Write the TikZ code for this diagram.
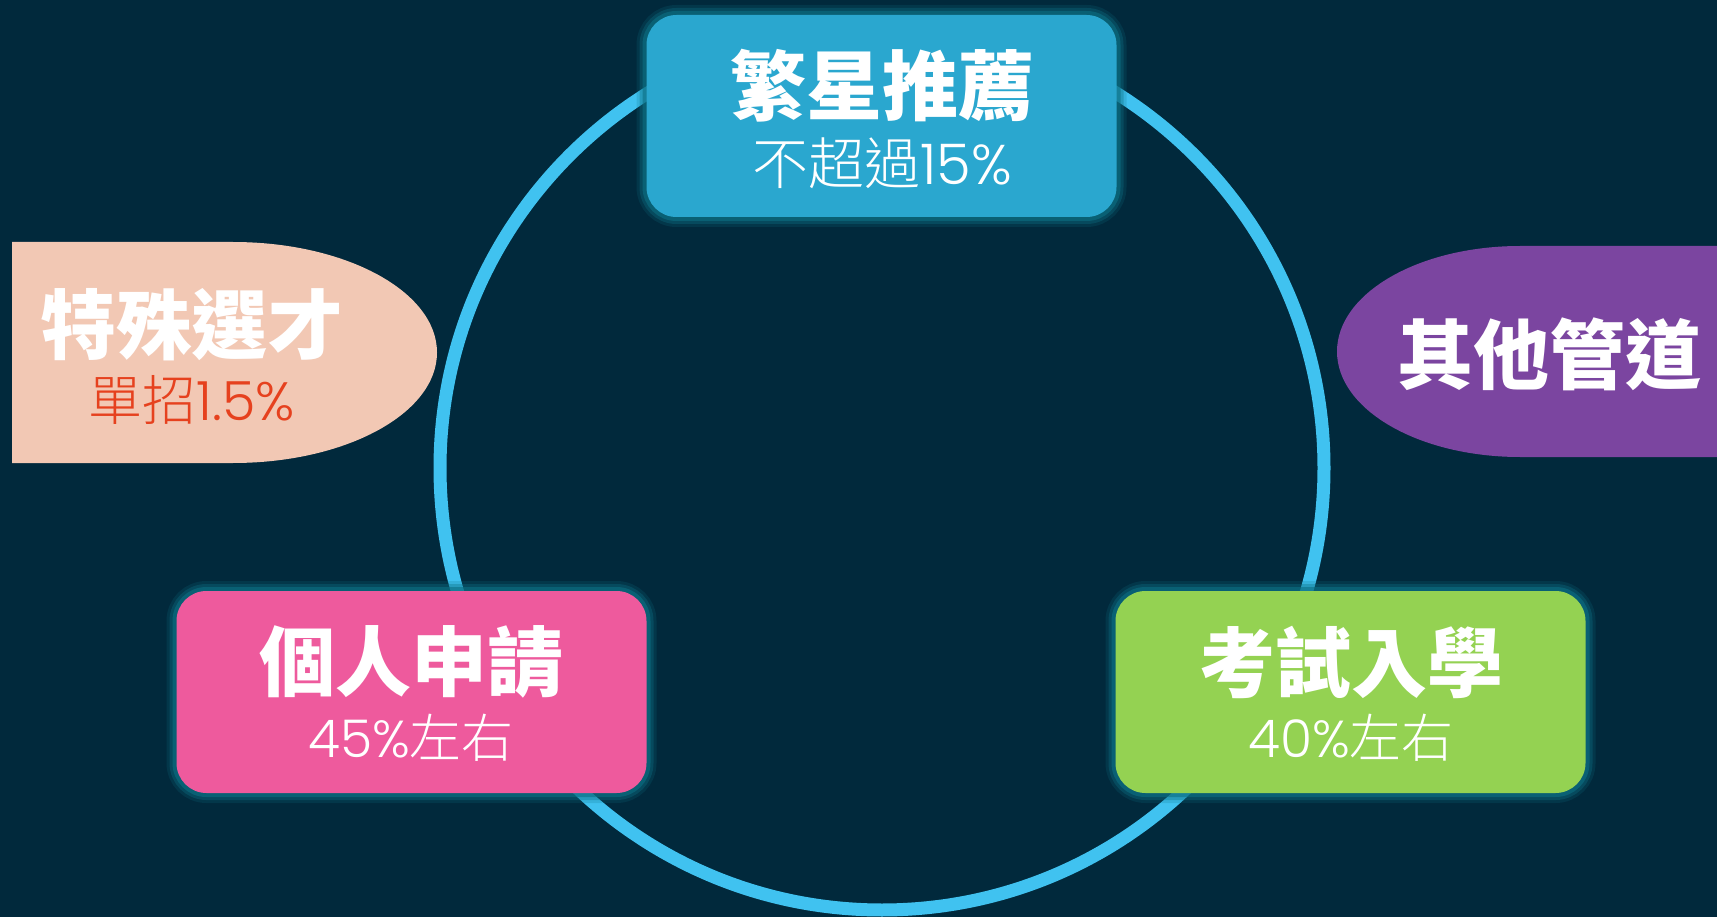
\documentclass[tikz,border=0pt]{standalone}
\usepackage{fontspec}
\newfontfamily\cjk{Noto Sans CJK TC}
\IfFontExistsTF{Noto Sans CJK TC Light}
  {\newfontfamily\cjkl{Noto Sans CJK TC Light}}
  {\newfontfamily\cjkl{Noto Sans CJK TC}}
\IfFontExistsTF{Poppins Light}
  {\newfontfamily\popl{Poppins Light}}
  {\newfontfamily\popl{Poppins}}
\definecolor{bgc}{RGB}{1,41,60}
\definecolor{ringc}{RGB}{64,194,240}
\definecolor{glowc}{RGB}{12,112,132}
\definecolor{bluebox}{RGB}{42,167,207}
\definecolor{pinkbox}{RGB}{238,90,157}
\definecolor{greenbox}{RGB}{148,210,82}
\definecolor{peachc}{RGB}{242,200,180}
\definecolor{purplec}{RGB}{123,69,160}
\definecolor{redtxt}{RGB}{230,65,30}
\tikzset{
  panel/.style={rounded corners=30pt, minimum width=470pt, minimum height=202pt, inner sep=0pt,
    preaction={draw=glowc, line width=20pt, draw opacity=0.2},
    preaction={draw=glowc, line width=14pt, draw opacity=0.35},
    preaction={draw=glowc, line width=8pt, draw opacity=0.6}},
  title/.style={text=white, inner sep=0pt, font=\cjk\bfseries\fontsize{76}{80}\selectfont},
  subtitle/.style={text=white, inner sep=0pt, font=\fontsize{52}{56}\selectfont}
}
\begin{document}
\begin{tikzpicture}[x=1pt,y=-1pt]
\fill[bgc] (0,0) rectangle (1717,917);
\useasboundingbox (0,0) rectangle (1717,917);
% ring
\draw[ringc, line width=13pt] (882,468) circle[radius=442];
% side shapes
\fill[peachc] (12,242) -- (233,242) arc[start angle=-90, end angle=90, x radius=204, y radius=110.5] -- (12,463) -- cycle;
\fill[purplec] (1717,246) -- (1520,246) arc[start angle=-90, end angle=-270, x radius=183, y radius=105.5] -- (1717,457) -- cycle;
% panels
\node[panel, fill=bluebox] (top) at (881.5,116) {};
\node[panel, fill=pinkbox] (left) at (411.5,692) {};
\node[panel, fill=greenbox] (right) at (1350.5,692) {};
% texts
\node[title] (t1) at (882,86) {繁星推薦};
\node[subtitle, font=\fontsize{56}{60}\selectfont] (s1) at (882,163) {\cjkl 不超過\popl 15\%};
\node[title] (t2) at (411,662) {個人申請};
\node[subtitle] (s2) at (411,738) {\popl 45\%\cjkl 左右};
\node[title] (t3) at (1351,662) {考試入學};
\node[subtitle] (s3) at (1351,738) {\popl 40\%\cjkl 左右};
\node[title] (t4) at (192,325) {特殊選才};
\node[subtitle, text=redtxt, font=\fontsize{54}{58}\selectfont] (s4) at (192,400) {\cjkl 單招\popl 1.5\%};
\node[title] (t5) at (1549,354) {其他管道};
\end{tikzpicture}
\end{document}
